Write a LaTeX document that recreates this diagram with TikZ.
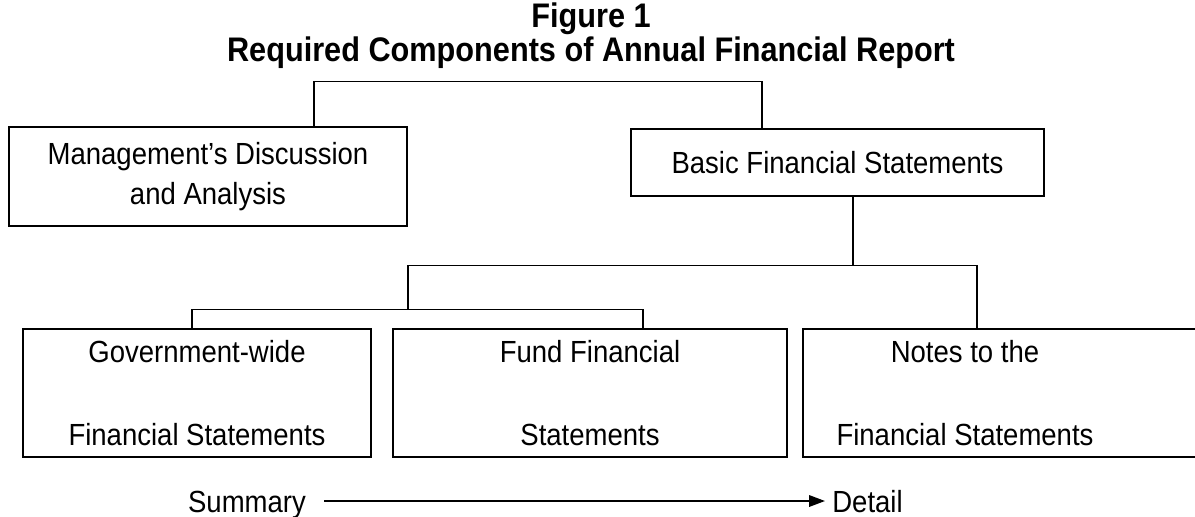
\documentclass[tikz,border=0pt]{standalone}
\usepackage{fontspec}
\setmainfont[FakeStretch=0.9]{Liberation Sans}
\usetikzlibrary{arrows.meta}

\begin{document}
\begin{tikzpicture}[
  box/.style={draw, line width=1.1pt, inner sep=0pt, align=center},
  link/.style={line width=0.6pt},
  body/.style={font=\fontsize{17.4}{23.2}\selectfont},
  tall/.style={font=\fontsize{17.4}{47}\selectfont},
  ends/.style={inner sep=0pt, text height=0.44cm, text depth=0pt, font=\fontsize{17.4}{18}\selectfont}
]
  \useasboundingbox (0,0) rectangle (23.9,10.32);
  \node[font=\bfseries\fontsize{19.4}{17.5}\selectfont, align=center] (title) at (11.82,9.6)
    {Figure 1\\Required Components of Annual Financial Report};

  % top row
  \node[box, body, minimum width=7.96cm, minimum height=1.98cm] (mda) at (4.16,6.79)
    {Management’s Discussion\\and Analysis};
  \node[box, body, minimum width=8.26cm, minimum height=1.34cm] (bfs) at (16.75,7.07)
    {Basic Financial Statements};

  % bottom row
  \node[box, tall, minimum width=6.96cm, minimum height=2.56cm] (govt) at (3.94,2.46)
    {Government-wide\\Financial Statements};
  \node[box, tall, minimum width=7.88cm, minimum height=2.56cm] (fund) at (11.80,2.46)
    {Fund Financial\\Statements};
  \node[box, minimum width=7.94cm, minimum height=2.56cm] (notes) at (20.03,2.46) {};
  \node[tall, align=center, inner sep=0pt] (notestext) at (19.30,2.46)
    {Notes to the\\Financial Statements};

  % connectors
  \draw[link] ([xshift=2.12cm]mda.north) -- ++(0,0.90) -| ([xshift=-1.51cm]bfs.north);
  \draw[link] ([xshift=0.31cm]bfs.south) -- ++(0,-1.38) coordinate (hub);
  \draw[link] ([xshift=-0.49cm]notes.north) |- (hub) -- ++(-8.90,0) coordinate (fork)
    -- ++(0,-0.88) coordinate (sub);
  \draw[link] ([xshift=-0.10cm]govt.north) |- (sub) -| ([xshift=1.06cm]fund.north);

  % summary to detail
  \node[ends] (sum) at (4.94,0.30) {Summary};
  \node[ends, anchor=west] (det) at (16.64,0.30) {Detail};
  \draw[line width=1pt, -{Triangle[length=9pt, width=6.5pt]}, shorten <=0.36cm, shorten >=0.14cm]
    (sum) -- (det);
\end{tikzpicture}
\end{document}
